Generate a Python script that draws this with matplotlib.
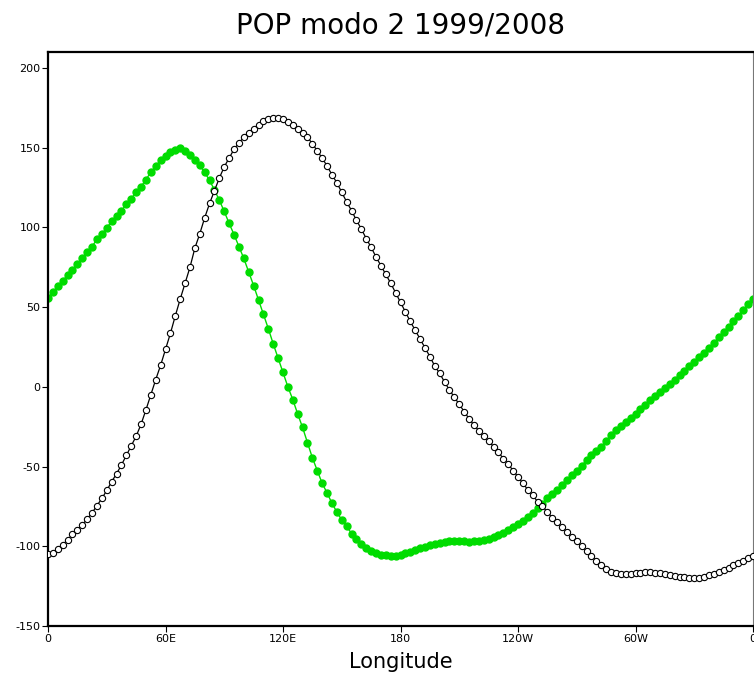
import matplotlib
matplotlib.use('Agg')
import matplotlib.pyplot as plt
import numpy as np

# longitudes every 2.5 deg, 0..360
lon = np.arange(0, 360.1, 2.5)

# green curve (filled markers)
green = [
    56, 59.5, 63, 66.5, 70, 73.5, 77, 81,
    84.5, 88, 92.5, 96, 99.5, 104, 107, 110.5,
    114.5, 118, 122, 125.5, 130, 134.5, 138.5, 142,
    144.5, 147, 148.5, 149.5, 148, 145.5, 142.5, 139,
    134.5, 129.5, 123.5, 117, 110, 102.5, 95.5, 88,
    80.5, 72, 63.5, 54.5, 45.5, 36.5, 27, 18,
    9, 0, -8, -17, -25.5, -35, -44.5, -52.5,
    -60.5, -66.5, -73, -78.5, -83.5, -87.5, -92, -95.5,
    -98.5, -101, -103, -104.3, -105.2, -105.7, -106, -105.8,
    -105.3, -104.5, -103.5, -102.5, -101.3, -100.2, -99.3, -98.5,
    -97.8, -97.2, -96.9, -96.8, -96.9, -97, -97.1, -97,
    -96.7, -96, -95.3, -94.3, -93, -91.5, -90, -88,
    -86, -84, -81.5, -79, -76, -73.5, -70, -67.5,
    -64.5, -61.5, -58.5, -55.5, -52.5, -49.5, -46, -43,
    -40.5, -37.5, -34, -30, -27, -24.5, -22, -19.5,
    -17, -14, -11.5, -8.5, -6, -3.5, -1, 1.5,
    4.5, 7.5, 10, 13, 15.5, 18.5, 21.5, 24.5,
    27.5, 31, 34.5, 37.5, 41, 44.5, 48, 52,
    55,
]

# black curve (open markers)
black = [
    -105, -104, -101.5, -99, -96, -92.5, -89.5, -86.5,
    -83, -79, -74.5, -70, -65, -59.5, -54.5, -49,
    -43, -37, -31, -23.5, -14.5, -5, 4.5, 13.5,
    23.5, 33.5, 44.5, 55, 65, 75, 87, 96,
    106, 115, 123, 131, 138, 143.5, 149, 153,
    156.5, 159.5, 162, 164.5, 166.5, 167.8, 168.5, 168.5,
    167.8, 166, 164, 161.5, 159, 156.5, 152.5, 148,
    143.5, 138.5, 133, 128, 122, 116, 110.5, 104.5,
    99, 93, 87.5, 81.5, 76, 70.5, 65, 59,
    53, 47, 41, 35.5, 30, 24.5, 19, 13,
    8.5, 3, -2, -6.5, -11, -15.5, -20, -24,
    -27.5, -31, -34, -37.5, -41, -45, -48.5, -52.5,
    -56.5, -60.5, -64.5, -68, -72, -75, -78.5, -82,
    -85, -88, -91, -94, -97, -100, -103, -106,
    -109, -112, -114.5, -116, -117, -117.5, -117.6, -117.3,
    -117, -116.5, -116.2, -116.3, -116.7, -117, -117.5, -118,
    -118.5, -119, -119.3, -119.6, -119.8, -119.6, -119, -118.2,
    -117.2, -116, -114.8, -113.5, -112, -110.5, -109, -107.5,
    -106,
]

xticks = [0, 60, 120, 180, 240, 300, 360]
xticklabels = ['0', '60E', '120E', '180', '120W', '60W', '0']
yticks = [-150, -100, -50, 0, 50, 100, 150, 200]

fig = plt.figure(figsize=(7.54, 6.75), dpi=100)
ax = fig.add_axes([48 / 754., 49 / 675., 705 / 754., 574 / 675.])

ax.plot(lon, green, '-', color='#00dc00', lw=1.0, marker='o', ms=5,
        mfc='#00dc00', mec='#00dc00', zorder=2)
ax.plot(lon, black, '-', color='black', lw=0.9, marker='o', ms=4.5,
        mfc='white', mec='black', mew=0.8, zorder=3)

ax.set_xlim(0, 360)
ax.set_ylim(-150, 210)
ax.set_xticks(xticks)
ax.set_xticklabels(xticklabels)
ax.set_yticks(yticks)
ax.set_yticklabels([str(v) for v in yticks])
ax.tick_params(direction='out', length=4, width=0.8, labelsize=8, pad=1.5)

for side in ['left', 'bottom', 'top']:
    ax.spines[side].set_linewidth(1.6)
ax.spines['right'].set_linewidth(0.8)
ax.spines['right'].set_color('#777777')

fig.text(401 / 754., 1 - 25 / 675., 'POP modo 2 1999/2008', ha='center',
         va='center', fontsize=20)
fig.text(401 / 754., 1 - 662 / 675., 'Longitude', ha='center',
         va='center', fontsize=15)

fig.savefig('out.png', dpi=100)
